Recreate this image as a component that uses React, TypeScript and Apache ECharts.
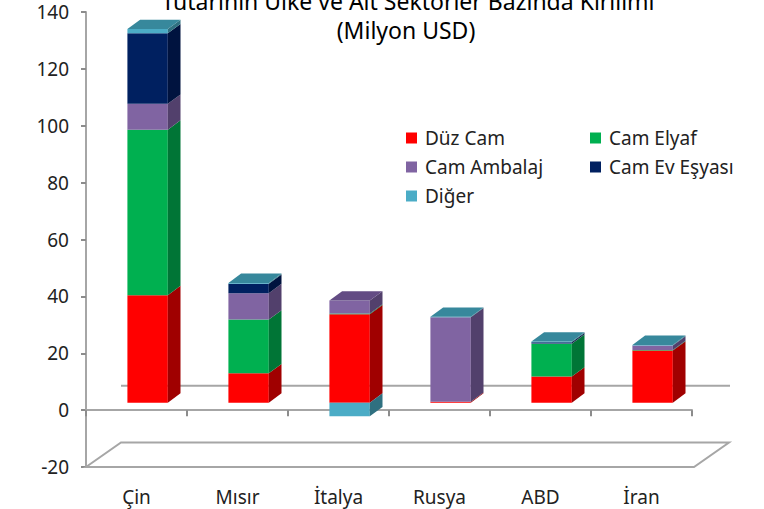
import React, { useEffect, useRef } from "react";
import * as echarts from "echarts";

const categories = ["Çin", "Mısır", "İtalya", "Rusya", "ABD", "İran"];
const duzCam = [37.8, 10.3, 31.1, 0.3, 9.2, 18.3];
const camElyaf = [58.2, 18.9, 0.2, 0, 11.5, 0.2];
const camAmbalaj = [9.1, 9.3, 4.6, 29.7, 0.1, 1.6];
const camEvEsyasi = [24.8, 3.3, 0, 0, 0.4, 0];
const diger = [1.5, 0.3, -4.8, 0.2, 0.3, 0.2];
const seriesNames = ["Düz Cam", "Cam Elyaf", "Cam Ambalaj", "Cam Ev Eşyası", "Diğer"];
const yTicks = { min: -20, max: 140, interval: 20 };

const FONT = "'Noto Sans', 'Open Sans', sans-serif";
const colors = [
  { front: "#FF0000", side: "#A00000", top: "#C00000" },
  { front: "#00B050", side: "#007536", top: "#008A40" },
  { front: "#8064A2", side: "#52406C", top: "#634C84" },
  { front: "#002060", side: "#00133F", top: "#001A50" },
  { front: "#4BACC6", side: "#2F7080", top: "#37889C" },
];

export default function App() {
  const ref = useRef<HTMLDivElement>(null);
  useEffect(() => {
    if (!ref.current) return;
    const chart = echarts.init(ref.current, null, { renderer: "svg" });
    const all = [duzCam, camElyaf, camAmbalaj, camEvEsyasi, diger];
    const DX = 35, DY = -24.5; // full floor depth
    const BX = 12.7, BY = -9.3; // bar depth
    const SHIFT_Y = -7.5;

    const makeRender = (s: number) => (params: any, api: any) => {
      const i = api.value(0);
      const v = api.value(1);
      if (!v) return null;
      let base = 0;
      for (let k = 0; k < s; k++) {
        const w = all[k][i];
        if ((v > 0 && w > 0) || (v < 0 && w < 0)) base += w;
      }
      let isTop = v > 0;
      if (v > 0) {
        for (let k = s + 1; k < all.length; k++) if (all[k][i] > 0) isTop = false;
      }
      const p0 = api.coord([i, base]);
      const p1 = api.coord([i, base + v]);
      const bw = api.size([1, 0])[0];
      const x0 = p0[0] - 0.09 * bw;
      const x1 = x0 + 0.4 * bw;
      const ya = p0[1] + SHIFT_Y;
      const yb = p1[1] + SHIFT_Y;
      const ytop = Math.min(ya, yb);
      const ybot = Math.max(ya, yb);
      const c = colors[s];
      const children: any[] = [
        { type: "rect", shape: { x: x0, y: ytop, width: x1 - x0, height: ybot - ytop }, style: { fill: c.front } },
        {
          type: "polygon",
          shape: { points: [[x1, ytop], [x1 + BX, ytop + BY], [x1 + BX, ybot + BY], [x1, ybot]] },
          style: { fill: c.side },
        },
      ];
      if (isTop) {
        children.push({
          type: "polygon",
          shape: { points: [[x0, ytop], [x0 + BX, ytop + BY], [x1 + BX, ytop + BY], [x1, ytop]] },
          style: { fill: c.top },
        });
      }
      return { type: "group", children };
    };

    const floorRender = (params: any, api: any) => {
      const cs = params.coordSys;
      const yFloor = api.coord([0, yTicks.min])[1];
      const yZero = api.coord([0, 0])[1];
      const xl = cs.x, xr = cs.x + cs.width;
      return {
        type: "group",
        children: [
          {
            type: "polygon",
            shape: { points: [[xl, yFloor], [xl + DX, yFloor + DY], [xr + DX + 2, yFloor + DY], [xr + 2, yFloor]] },
            style: { fill: "#fff", stroke: "#A6A6A6", lineWidth: 2 },
          },
          {
            type: "line",
            shape: { x1: xl + DX, y1: yZero + DY, x2: xr + DX + 3, y2: yZero + DY },
            style: { stroke: "#A6A6A6", lineWidth: 2 },
          },
        ],
      };
    };

    const series: any[] = [
      {
        type: "custom",
        name: "floor",
        renderItem: floorRender,
        data: [[0, 0]],
        z: 1,
        silent: true,
      },
      ...all.map((arr, s) => ({
        type: "custom",
        name: seriesNames[s],
        renderItem: makeRender(s),
        itemStyle: { color: colors[s].front },
        data: arr.map((v, i) => [i, v]),
        encode: { x: 0, y: 1 },
        z: 3,
      })),
    ];

    const legendCommon = {
      orient: "vertical",
      top: 123,
      itemGap: 9,
      itemWidth: 11,
      itemHeight: 11,
      icon: "rect",
      textStyle: { fontSize: 19, lineHeight: 20, color: "#222", fontFamily: FONT, padding: [0, 0, 0, 3] },
    };

    chart.setOption({
      animation: false,
      textStyle: { fontFamily: FONT },
      grid: { left: 86, right: 72, top: 12, bottom: 42 },
      graphic: [
        {
          type: "text",
          x: 408,
          y: 1,
          style: {
            text: "Tutarının Ülke ve Alt Sektörler Bazında Kırılımı",
            textAlign: "center",
            textVerticalAlign: "middle",
            fontSize: 23,
            fontFamily: FONT,
            fill: "#000",
          },
          z: 10,
        },
        {
          type: "text",
          x: 406,
          y: 30,
          style: {
            text: "(Milyon USD)",
            textAlign: "center",
            textVerticalAlign: "middle",
            fontSize: 23,
            fontFamily: FONT,
            fill: "#000",
          },
          z: 10,
        },
      ],
      legend: [
        { ...legendCommon, data: [seriesNames[0], seriesNames[2], seriesNames[4]], left: 401 },
        { ...legendCommon, data: [seriesNames[1], seriesNames[3]], left: 585 },
      ],
      xAxis: [
        {
          type: "category",
          data: categories,
          axisLine: { onZero: true, lineStyle: { color: "#A6A6A6", width: 2 } },
          axisTick: { show: true, length: 6, lineStyle: { color: "#8C8C8C", width: 2 } },
          axisLabel: { show: false },
          splitLine: { show: false },
          z: 2,
        },
        {
          type: "category",
          data: categories,
          position: "bottom",
          axisLine: { show: false },
          axisTick: { show: false },
          axisLabel: { margin: 20, fontSize: 19, color: "#222", fontFamily: FONT },
        },
      ],
      yAxis: {
        type: "value",
        min: yTicks.min,
        max: yTicks.max,
        interval: yTicks.interval,
        axisLine: { show: true, lineStyle: { color: "#A6A6A6", width: 2 } },
        axisTick: { show: true, length: 5, lineStyle: { color: "#8C8C8C", width: 2 } },
        axisLabel: { margin: 17, fontSize: 19, color: "#222", fontFamily: FONT },
        splitLine: { show: false },
      },
      series,
    });
    return () => chart.dispose();
  }, []);
  return (
    <div
      ref={ref}
      style={{ position: "fixed", left: 0, top: 0, width: 764, height: 509, background: "#fff" }}
    />
  );
}
